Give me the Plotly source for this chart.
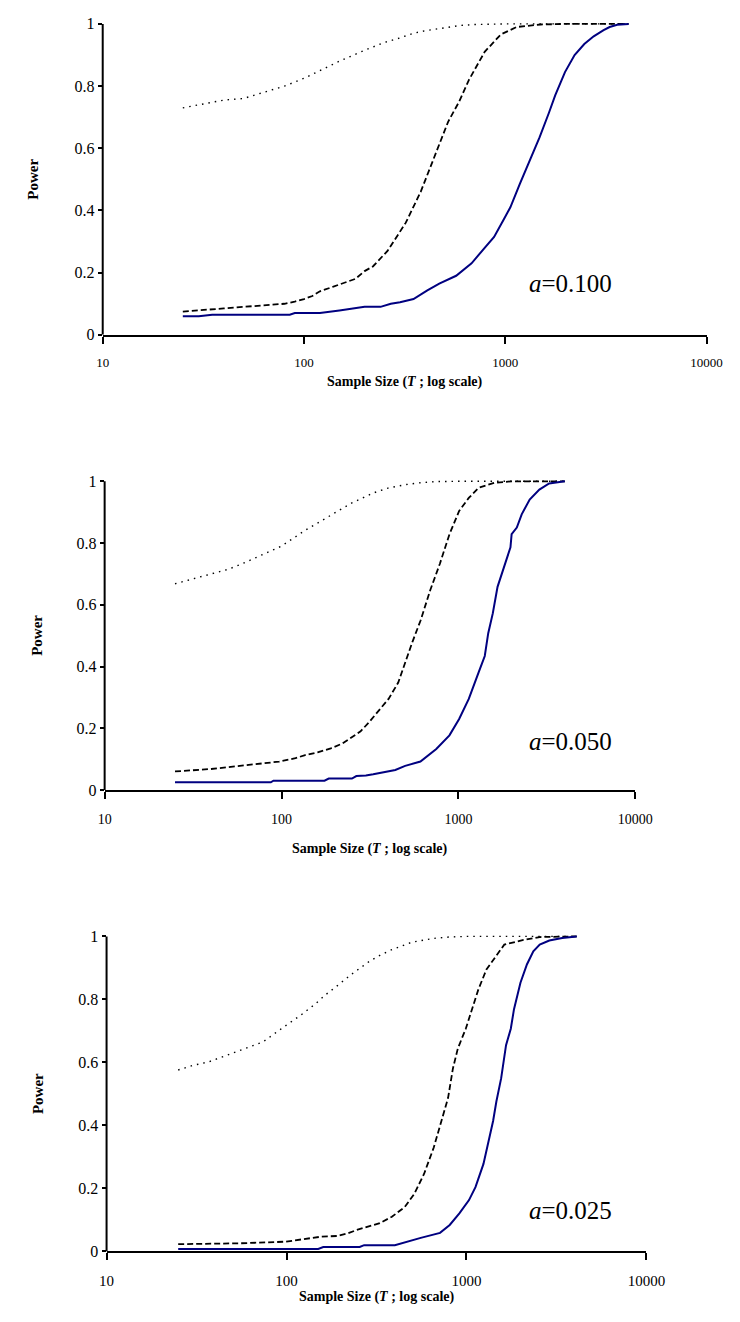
import plotly.graph_objects as go

# ---------------- data ----------------
# Panel 1: a = 0.100
dot_x1 = [25, 30, 35, 40, 50, 60, 70, 80, 100, 120, 150, 200, 250, 300, 350, 400, 500, 600, 700, 1000, 2000, 4100]
dot_y1 = [0.73, 0.74, 0.75, 0.755, 0.76, 0.775, 0.79, 0.80, 0.825, 0.85, 0.88, 0.915, 0.94, 0.955, 0.97, 0.978, 0.988, 0.995, 0.998, 1.0, 1.0, 1.0]
dash_x1 = [25, 30, 40, 50, 60, 70, 80, 90, 100, 110, 120, 140, 160, 180, 200, 220, 260, 320, 380, 450, 520, 590, 660, 790, 950, 1140, 1500, 2000, 4100]
dash_y1 = [0.075, 0.078, 0.085, 0.09, 0.093, 0.097, 0.10, 0.107, 0.115, 0.125, 0.14, 0.155, 0.167, 0.18, 0.205, 0.22, 0.27, 0.36, 0.46, 0.58, 0.685, 0.75, 0.82, 0.91, 0.966, 0.99, 0.998, 1.0, 1.0]
sol_x1 = [25, 30, 35, 85, 90, 120, 150, 180, 200, 240, 270, 300, 340, 350, 410, 470, 570, 680, 790, 880, 990, 1060, 1180, 1320, 1480, 1650, 1770, 1980, 2210, 2470, 2750, 3080, 3300, 3600, 4100]
sol_y1 = [0.06, 0.06, 0.065, 0.065, 0.07, 0.07, 0.078, 0.085, 0.09, 0.09, 0.10, 0.105, 0.115, 0.115, 0.143, 0.165, 0.19, 0.23, 0.28, 0.315, 0.375, 0.41, 0.485, 0.56, 0.635, 0.715, 0.77, 0.845, 0.90, 0.935, 0.96, 0.98, 0.99, 0.997, 1.0]

# Panel 2: a = 0.050
dot_x2 = [25, 30, 40, 50, 60, 80, 100, 135, 160, 200, 250, 310, 330, 400, 500, 600, 750, 1000, 2000, 4000]
dot_y2 = [0.668, 0.68, 0.70, 0.715, 0.733, 0.765, 0.79, 0.84, 0.865, 0.898, 0.93, 0.955, 0.962, 0.978, 0.989, 0.995, 0.999, 1.0, 1.0, 1.0]
dash_x2 = [25, 30, 40, 50, 67, 80, 97, 120, 136, 160, 190, 220, 245, 280, 313, 360, 403, 457, 497, 550, 612, 693, 786, 891, 1010, 1145, 1300, 1600, 2000, 4000]
dash_y2 = [0.06, 0.063, 0.068, 0.074, 0.081, 0.086, 0.092, 0.103, 0.113, 0.122, 0.135, 0.15, 0.167, 0.19, 0.22, 0.26, 0.295, 0.348, 0.41, 0.48, 0.55, 0.647, 0.733, 0.829, 0.904, 0.946, 0.979, 0.995, 1.0, 1.0]
sol_x2 = [25, 87, 90, 175, 185, 250, 265, 300, 330, 440, 500, 610, 750, 890, 1010, 1145, 1300, 1410, 1475, 1565, 1665, 1810, 1970, 2000, 2140, 2280, 2530, 2870, 3260, 4000]
sol_y2 = [0.025, 0.025, 0.03, 0.03, 0.037, 0.037, 0.045, 0.047, 0.051, 0.065, 0.078, 0.092, 0.133, 0.177, 0.23, 0.295, 0.38, 0.434, 0.508, 0.572, 0.658, 0.722, 0.786, 0.829, 0.85, 0.893, 0.941, 0.973, 0.993, 1.0]

# Panel 3: a = 0.025
dot_x3 = [25, 30, 37, 45, 56, 74, 99, 120, 144, 165, 191, 230, 289, 330, 385, 493, 600, 685, 800, 1000, 2000, 4100]
dot_y3 = [0.576, 0.59, 0.602, 0.62, 0.639, 0.665, 0.717, 0.75, 0.785, 0.815, 0.843, 0.88, 0.921, 0.94, 0.958, 0.981, 0.99, 0.995, 0.998, 1.0, 1.0, 1.0]
dash_x3 = [25, 56, 99, 130, 156, 191, 220, 245, 289, 330, 385, 454, 513, 581, 658, 743, 790, 841, 895, 991, 1076, 1165, 1291, 1495, 1622, 2075, 2548, 4100]
dash_y3 = [0.023, 0.026, 0.031, 0.04, 0.047, 0.049, 0.058, 0.068, 0.079, 0.09, 0.11, 0.141, 0.183, 0.246, 0.33, 0.435, 0.487, 0.581, 0.644, 0.707, 0.769, 0.832, 0.895, 0.948, 0.974, 0.989, 0.998, 1.0]
sol_x3 = [25, 150, 160, 255, 270, 400, 557, 713, 807, 913, 1033, 1122, 1243, 1321, 1406, 1466, 1559, 1659, 1763, 1837, 1995, 2167, 2352, 2553, 2886, 3403, 4100]
sol_y3 = [0.008, 0.008, 0.014, 0.014, 0.02, 0.02, 0.043, 0.059, 0.084, 0.121, 0.163, 0.204, 0.278, 0.351, 0.414, 0.476, 0.55, 0.655, 0.707, 0.769, 0.853, 0.911, 0.953, 0.974, 0.987, 0.995, 1.0]

alpha_labels = ["0.100", "0.050", "0.025"]
x_tick_vals = [10, 100, 1000, 10000]
x_tick_text = ["10", "100", "1000", "10000"]
y_tick_vals = [0, 0.2, 0.4, 0.6, 0.8, 1.0]
y_tick_text = ["0", "0.2", "0.4", "0.6", "0.8", "1"]

panels = [
    (dot_x1, dot_y1, dash_x1, dash_y1, sol_x1, sol_y1),
    (dot_x2, dot_y2, dash_x2, dash_y2, sol_x2, sol_y2),
    (dot_x3, dot_y3, dash_x3, dash_y3, sol_x3, sol_y3),
]

# ---------------- layout geometry (pixels) ----------------
W, H = 740, 1322
FONT = "Liberation Serif"
YTOP = 1.012  # small headroom so lines at power = 1 are not clipped
# (left, right, y=1 pixel, y=0 pixel) of each plot area
boxes = [(90, 716.7, 11, 325.3), (92, 642.7, 473.3, 785.3), (94, 654.3, 933.3, 1251.7)]
xtick_sizes = [13, 14, 15]
title_y = [373, 845, 1298]
power_x = [18, 21, 23]
ann_pos = [(530, 273), (530, 736.7), (530, 1210)]

fig = go.Figure()
layout = dict(
    width=W, height=H, margin=dict(l=0, r=0, t=0, b=0),
    paper_bgcolor="white", plot_bgcolor="white", showlegend=False,
    font=dict(family=FONT, color="black"),
)
annotations = []

for i, (dx, dy, ddx, ddy, sx, sy) in enumerate(panels):
    n = "" if i == 0 else str(i + 1)
    xa, ya = "x" + n, "y" + n
    fig.add_trace(go.Scatter(x=dx, y=dy, mode="lines", xaxis=xa, yaxis=ya,
                             line=dict(color="black", width=1.4, dash="1.5px,5px")))
    fig.add_trace(go.Scatter(x=ddx, y=ddy, mode="lines", xaxis=xa, yaxis=ya,
                             line=dict(color="black", width=1.8, dash="6px,3px")))
    fig.add_trace(go.Scatter(x=sx, y=sy, mode="lines", xaxis=xa, yaxis=ya,
                             line=dict(color="#000080", width=2)))
    l, r, t, b = boxes[i]
    top = b - (b - t) * YTOP
    layout["xaxis" + n] = dict(
        domain=[l / W, r / W], anchor=ya, type="log", range=[1, 4],
        tickvals=x_tick_vals, ticktext=x_tick_text,
        showline=True, linecolor="black", linewidth=2,
        ticks="outside", ticklen=7, tickwidth=1.5, tickcolor="black",
        showgrid=False, zeroline=False, ticklabelstandoff=8,
        tickfont=dict(family=FONT, size=xtick_sizes[i], color="black"),
    )
    layout["yaxis" + n] = dict(
        domain=[1 - b / H, 1 - top / H], anchor=xa, range=[0, YTOP],
        tickvals=y_tick_vals, ticktext=y_tick_text,
        showline=False,
        ticks="outside", ticklen=4, tickwidth=1.5, tickcolor="black",
        showgrid=False, zeroline=False,
        tickfont=dict(family=FONT, size=16, color="black"),
    )
    # y axis line drawn from 0 to 1 only
    fig.add_shape(type="line", xref=xa + " domain", yref=ya, x0=0, x1=0, y0=0, y1=1,
                  line=dict(color="black", width=2))
    annotations.append(dict(
        x=(l + r) / 2 / W, y=1 - title_y[i] / H, xref="paper", yref="paper",
        text="<b>Sample Size (<i>T</i> ; log scale)</b>", showarrow=False,
        xanchor="center", yanchor="middle", font=dict(family=FONT, size=14, color="black"),
    ))
    annotations.append(dict(
        x=power_x[i] / W, y=1 - (t + b) / 2 / H, xref="paper", yref="paper",
        text="<b>Power</b>", textangle=-90, showarrow=False,
        xanchor="center", yanchor="middle", font=dict(family=FONT, size=15, color="black"),
    ))
    ax, ay = ann_pos[i]
    annotations.append(dict(
        x=ax / W, y=1 - ay / H, xref="paper", yref="paper",
        text="<i>a</i>=" + alpha_labels[i], showarrow=False,
        xanchor="left", yanchor="middle", font=dict(family=FONT, size=25, color="black"),
    ))

layout["annotations"] = annotations
fig.update_layout(**layout)
fig.write_html("out.html")
